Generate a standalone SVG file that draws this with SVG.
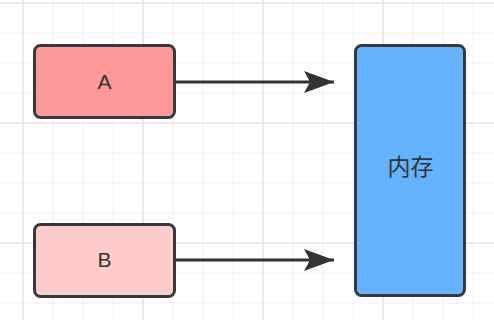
<svg xmlns="http://www.w3.org/2000/svg" width="494" height="320" viewBox="0 0 494 320">
  <style>
    .minor { stroke: #f0f0f0; stroke-width: 1; fill: none; }
    .major { stroke: #e4e4e4; stroke-width: 1.5; fill: none; }
    .node { stroke: #36393d; stroke-width: 3; }
    .label { font-family: "Liberation Sans", "Noto Sans CJK SC", sans-serif; font-size: 21px; fill: #333333; text-anchor: middle; dominant-baseline: central; }
    .edge { stroke: #333333; stroke-width: 3; fill: none; }
  </style>
  <defs>
    <marker id="arrow" markerUnits="userSpaceOnUse" markerWidth="32" markerHeight="24" refX="30" refY="11" orient="auto">
      <path d="M0,0 L30,11 L0,22 L6,11 Z" fill="#333333"/>
    </marker>
  </defs>
  <rect width="494" height="320" fill="#ffffff"/>
  <g id="grid">
    <path class="minor" d="M53,0V320M83,0V320M113,0V320M173,0V320M203,0V320M233,0V320M293,0V320M323,0V320M353,0V320M413,0V320M443,0V320M473,0V320M0,33H494M0,63H494M0,93H494M0,153H494M0,183H494M0,213H494M0,273H494M0,303H494"/>
    <path class="major" d="M23,0V320M143,0V320M263,0V320M383,0V320M0,3H494M0,123H494M0,243H494"/>
  </g>
  <g id="connectors">
    <line class="edge" x1="176" y1="82" x2="334" y2="82" marker-end="url(#arrow)"/>
    <line class="edge" x1="176" y1="260" x2="334" y2="260" marker-end="url(#arrow)"/>
  </g>
  <g id="nodeA">
    <rect class="node" x="34.5" y="45.5" width="140" height="72" rx="6" fill="#ff9999"/>
    <text class="label" x="104.5" y="81.5">A</text>
  </g>
  <g id="nodeB">
    <rect class="node" x="34.5" y="224.5" width="140" height="72" rx="6" fill="#ffcccc"/>
    <text class="label" x="104.5" y="259.5">B</text>
  </g>
  <g id="memory">
    <rect class="node" x="355.5" y="45.5" width="109" height="250" rx="6" fill="#66b2ff"/>
    <text class="label" x="410.5" y="167" style="font-size:23px">内存</text>
  </g>
</svg>
